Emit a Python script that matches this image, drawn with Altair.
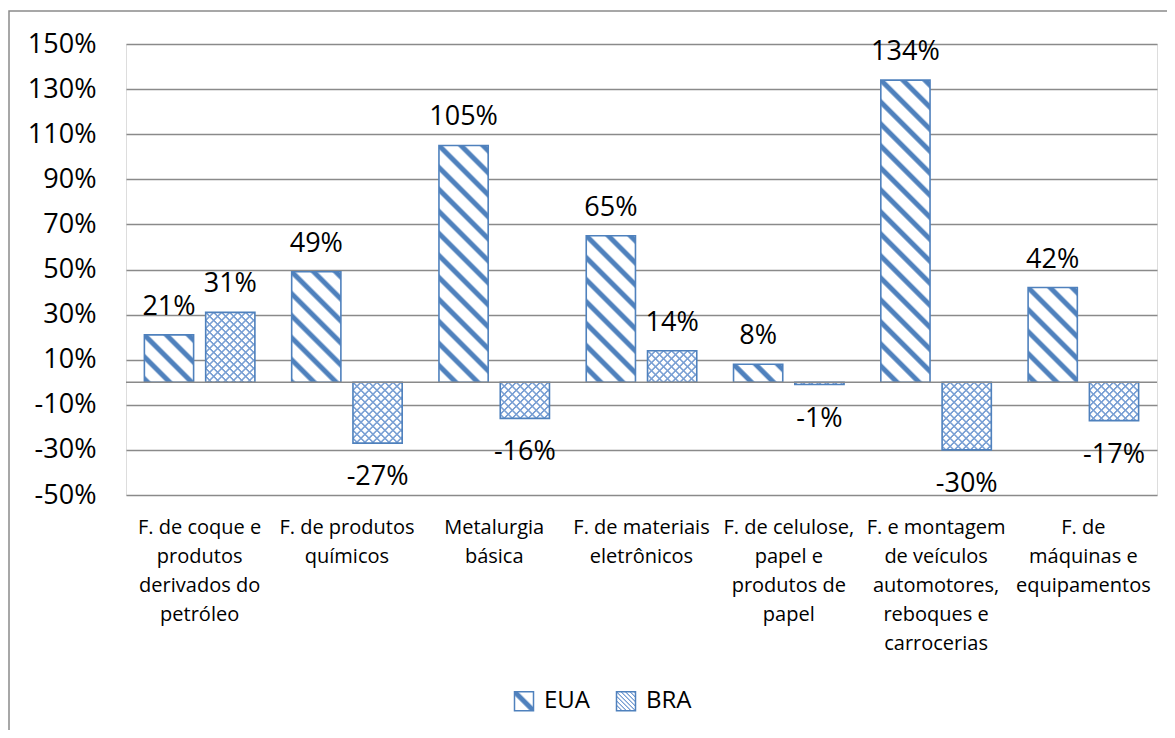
import math
import json
import altair as alt
import pandas as pd

# ---------------- data ----------------
categories = [
    "F. de coque e\nprodutos\nderivados do\npetróleo",
    "F. de produtos\nquímicos",
    "Metalurgia\nbásica",
    "F. de materiais\neletrônicos",
    "F. de celulose,\npapel e\nprodutos de\npapel",
    "F. e montagem\nde veículos\nautomotores,\nreboques e\ncarrocerias",
    "F. de\nmáquinas e\nequipamentos",
]
series = ["EUA", "BRA"]
eua = [21, 49, 105, 65, 8, 134, 42]
bra = [31, -27, -16, 14, -1, -30, -17]
y_ticks = [-50, -30, -10, 10, 30, 50, 70, 90, 110, 130, 150]

rows = []
for k, c in enumerate(categories):
    rows.append({"cat": c, "serie": "EUA", "v": eua[k], "i": 2 * k})
    rows.append({"cat": c, "serie": "BRA", "v": bra[k], "i": 2 * k + 1})
df = pd.DataFrame(rows)

# ---------------- styling / geometry ----------------
W, H = 1031, 451
Y_DOMAIN = [-50, 150]
PX = H / (Y_DOMAIN[1] - Y_DOMAIN[0])
P_IN, P_OUT = 0.197, 0.3
STEP = W / len(categories)
SUB = STEP / (2 - P_IN + 2 * P_OUT)
BW = SUB * (1 - P_IN)

BLUE = "#4f81bd"
HATCH = "#7aa0d4"
GRID = "#8a8a8a"
FONT = "Open Sans"

# stripe pattern sizes (px, measured horizontally)
EUA_PERIOD, EUA_BAND, EUA_SOFT = 22, 7.0, 2.4
BRA_PERIOD, BRA_BAND, BRA_SOFT = 8, 2.2, 1.0


def hex2rgb(h):
    h = h.lstrip("#")
    return tuple(int(h[j:j + 2], 16) for j in (0, 2, 4))


def color_at(f, fg, transparent):
    r, g, b = hex2rgb(fg)
    if transparent:
        return f"rgba({r},{g},{b},{f:.3f})"
    rr = round(255 + (r - 255) * f)
    gg = round(255 + (g - 255) * f)
    bb = round(255 + (b - 255) * f)
    return f"rgb({rr},{gg},{bb})"


def stripe_gradient(w, h, period, band, fg, direction="back", transparent=False, soft=0.9):
    L = w + h
    start = -h if direction == "back" else 0.0
    end = start + L

    def f(m):
        d = abs(((m + period / 2) % period) - period / 2)
        if d <= band / 2 - soft / 2:
            return 1.0
        if d >= band / 2 + soft / 2:
            return 0.0
        return (band / 2 + soft / 2 - d) / soft

    pts = []
    for k in range(math.floor(start / period) - 1, math.ceil(end / period) + 2):
        c = k * period
        for dd in (-(band / 2 + soft / 2), -(band / 2 - soft / 2), band / 2 - soft / 2, band / 2 + soft / 2):
            m = c + dd
            if start < m < end:
                pts.append(m)
    pts = [start] + sorted(pts) + [end]
    stops = [{"offset": round((m - start) / L, 5), "color": color_at(f(m), fg, transparent)} for m in pts]
    r = h / w
    s = (1 + r) / (1 + r * r)
    if direction == "back":
        x1, y1, x2, y2 = 0, 1, s, 1 - s * r
    else:
        x1, y1, x2, y2 = 0, 0, s, s * r
    return {"gradient": "linear", "x1": x1, "y1": y1, "x2": round(x2, 5), "y2": round(y2, 5), "stops": stops}


# ---------------- encodings ----------------
X = alt.X(
    "cat:N",
    sort=categories,
    scale=alt.Scale(domain=categories, paddingInner=0, paddingOuter=0),
    axis=alt.Axis(
        title=None, labelExpr="split(datum.label, '\\n')", labelFont=FONT, labelFontSize=20,
        labelLineHeight=29, labelPadding=22, labelColor="black", ticks=False, domain=False,
        labelAngle=0, labelOverlap=False, labelLimit=400,
    ),
)
XO = alt.XOffset("serie:N", scale=alt.Scale(domain=series, paddingInner=P_IN, paddingOuter=P_OUT))
Y = alt.Y(
    "v:Q",
    scale=alt.Scale(domain=Y_DOMAIN, nice=False, zero=False),
    axis=alt.Axis(
        title=None, values=y_ticks, labelExpr="datum.value + '%'", labelFont=FONT, labelFontSize=27,
        labelPadding=30, labelColor="black", ticks=False, domain=False, grid=True,
        gridColor=GRID, gridWidth=1.5,
    ),
)

# legend gradients (square symbols)
leg_eua = stripe_gradient(19, 19, EUA_PERIOD, EUA_BAND, BLUE, "back", soft=EUA_SOFT)
leg_bra = stripe_gradient(19, 19, 4.5, 1.6, HATCH, "back")

frame = alt.Chart(pd.DataFrame({"a": [0]})).mark_rect(
    fillOpacity=0, stroke=GRID, strokeWidth=1.5
).encode(x=alt.value(-117), x2=alt.value(W + 60), y=alt.value(-33), y2=alt.value(H + 400))

base = alt.Chart(df).mark_bar().encode(
    x=X, xOffset=XO, y=Y,
    color=alt.Color(
        "serie:N",
        scale=alt.Scale(domain=series, range=[{"expr": json.dumps(leg_eua)}, {"expr": json.dumps(leg_bra)}]),
        legend=alt.Legend(
            title=None, orient="none", direction="horizontal", legendX=386, legendY=645,
            labelFont=FONT, labelFontSize=24, labelColor="black", symbolType="square",
            symbolSize=361, symbolStrokeColor=BLUE, symbolStrokeWidth=1.5, labelOffset=8,
            columnPadding=22, padding=0,
        ),
    ),
)

pattern_layers = []
for r in rows:
    h = max(abs(r["v"]) * PX, 1.0)
    sel = alt.Chart(df).transform_filter(f"datum.i == {r['i']}")
    if r["serie"] == "EUA":
        g = stripe_gradient(BW, h, EUA_PERIOD, EUA_BAND, BLUE, "back", soft=EUA_SOFT)
        pattern_layers.append(sel.mark_bar(fill=g).encode(x=X, xOffset=XO, y=Y))
    else:
        g1 = stripe_gradient(BW, h, BRA_PERIOD, BRA_BAND, HATCH, "back", soft=BRA_SOFT)
        g2 = stripe_gradient(BW, h, BRA_PERIOD, BRA_BAND, HATCH, "fwd", transparent=True, soft=BRA_SOFT)
        pattern_layers.append(sel.mark_bar(fill=g1).encode(x=X, xOffset=XO, y=Y))
        pattern_layers.append(sel.mark_bar(fill=g2).encode(x=X, xOffset=XO, y=Y))

outline = alt.Chart(df).mark_bar(fillOpacity=0, stroke=BLUE, strokeWidth=1.6).encode(x=X, xOffset=XO, y=Y)

zero = alt.Chart(pd.DataFrame({"a": [0]})).mark_rule(color=GRID, strokeWidth=1.5).encode(y=alt.datum(0))

txt_pos = alt.Chart(df).transform_filter("datum.v >= 0").transform_calculate(
    lbl="datum.v + '%'"
).mark_text(font=FONT, fontSize=27, baseline="alphabetic", dy=-20, color="black").encode(
    x=X, xOffset=XO, y=Y, text="lbl:N"
)
txt_neg = alt.Chart(df).transform_filter("datum.v < 0").transform_calculate(
    lbl="datum.v + '%'"
).mark_text(font=FONT, fontSize=27, baseline="alphabetic", dy=42, color="black").encode(
    x=X, xOffset=XO, y=Y, text="lbl:N"
)

chart = alt.layer(frame, base, *pattern_layers, outline, zero, txt_pos, txt_neg).properties(
    width=W, height=H,
    padding={"left": 118, "top": 36, "right": 10, "bottom": 235},
    autosize=alt.AutoSizeParams(type="none"),
).configure_view(stroke="transparent").configure(font=FONT, background="white")

chart.save("out.html", embed_options={"renderer": "svg", "actions": False})
